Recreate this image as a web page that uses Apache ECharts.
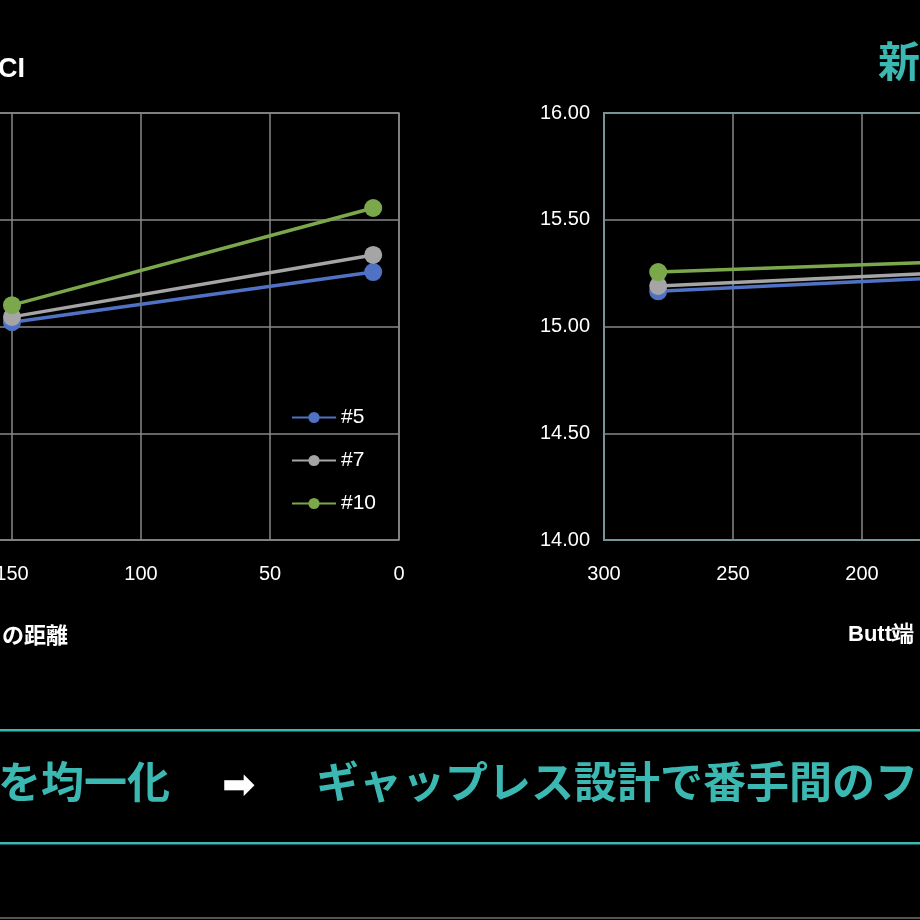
<!DOCTYPE html>
<html><head><meta charset="utf-8">
<script src="https://cdn.jsdelivr.net/npm/echarts@6/dist/echarts.min.js"></script>
<style>html,body{margin:0;background:#000;overflow:hidden;width:920px;height:920px}#c{position:absolute;left:-500px;top:0;width:1900px;height:920px}</style>
</head><body><div id="c"></div>
<script>
const seriesNames = ['#5', '#7', '#10'];
const colors = ['#4f72c4', '#a5a5a5', '#7ca84c'];
const leftX = [150, 10];
const leftVals = [[15.02, 15.255], [15.045, 15.335], [15.10, 15.555]];
const rightX = [279, 10];
const rightVals = [[15.165, 15.32], [15.19, 15.34], [15.255, 15.37]];
const yTicks = {min: 14, max: 16, interval: 0.5};

const O = 500;
const font = '"Liberation Sans", Arial, sans-serif';
const jp = '"Noto Sans CJK JP", sans-serif';
const chart = echarts.init(document.getElementById('c'));
const series = [];
seriesNames.forEach((n, i) => {
  series.push({name: n, type: 'line', xAxisIndex: 0, yAxisIndex: 0, data: leftX.map((x, j) => [x, leftVals[i][j]]),
    symbol: 'circle', symbolSize: 18, lineStyle: {width: 3.5, color: colors[i]}, itemStyle: {color: colors[i]}, z: 3 + i});
  series.push({name: n + 'r', type: 'line', xAxisIndex: 1, yAxisIndex: 1, data: rightX.map((x, j) => [x, rightVals[i][j]]),
    symbol: 'circle', symbolSize: 18, lineStyle: {width: 3.5, color: colors[i]}, itemStyle: {color: colors[i]}, z: 3 + i});
});
const ax = (gi) => ({
  gridIndex: gi, type: 'value', min: 0, max: 300, interval: 50, inverse: true,
  axisLine: {show: false}, axisTick: {show: false},
  axisLabel: {color: '#fff', fontSize: 20, fontFamily: font, margin: 24},
  splitLine: {lineStyle: {color: '#888', width: 1.5}}
});
const ay = (gi, show) => ({
  gridIndex: gi, type: 'value', min: yTicks.min, max: yTicks.max, interval: yTicks.interval,
  axisLine: {show: false}, axisTick: {show: false},
  axisLabel: {show: show, color: '#fff', fontSize: 20, fontFamily: font, margin: 14, formatter: v => v.toFixed(2)},
  splitLine: {lineStyle: {color: '#888', width: 1.5}}
});
chart.setOption({
  backgroundColor: '#000',
  animation: false,
  grid: [
    {left: O - 375, top: 113, width: 774, height: 427, show: true, borderColor: '#888', borderWidth: 1.5, backgroundColor: 'transparent'},
    {left: O + 604, top: 113, width: 774, height: 427, show: true, borderColor: '#3cb8b3', borderWidth: 2, backgroundColor: 'transparent'}
  ],
  xAxis: [ax(0), ax(1)],
  yAxis: [ay(0, false), ay(1, true)],
  legend: {data: seriesNames, orient: 'vertical', left: O + 286, top: 402, itemGap: 22, itemWidth: 44, itemHeight: 14,
    textStyle: {color: '#fff', fontSize: 21, fontFamily: font}},
  series: series,
  graphic: [
    {type: 'text', left: O - 2, top: 56, style: {text: 'CI', fill: '#fff', font: 'bold 27px ' + font}},
    {type: 'text', left: O + 878, top: 40, style: {text: '新', fill: '#3cb8b3', font: 'bold 42px ' + jp}},
    {type: 'text', left: O + 2, top: 624, style: {text: 'の距離', fill: '#fff', font: 'bold 22px ' + jp}},
    {type: 'text', left: O + 848, top: 624, style: {text: 'Butt端', fill: '#fff', font: 'bold 22px ' + font}},
    {type: 'rect', shape: {x: O, y: 729, width: 920, height: 2.5}, style: {fill: '#3cb8b3'}},
    {type: 'rect', shape: {x: O, y: 842, width: 920, height: 2.5}, style: {fill: '#3cb8b3'}},
    {type: 'rect', shape: {x: O, y: 917, width: 920, height: 2}, style: {fill: '#555'}},
    {type: 'text', left: O - 2, top: 760, style: {text: 'を均一化', fill: '#3cb8b3', font: 'bold 43px ' + jp}},
    {type: 'text', left: O + 222, top: 768, style: {text: '➡', fill: '#fff', font: 'bold 40px "DejaVu Sans"'}},
    {type: 'text', left: O + 316, top: 760, style: {text: 'ギャップレス設計で番手間のフ', fill: '#3cb8b3', font: 'bold 43px ' + jp}}
  ]
});
</script></body></html>
